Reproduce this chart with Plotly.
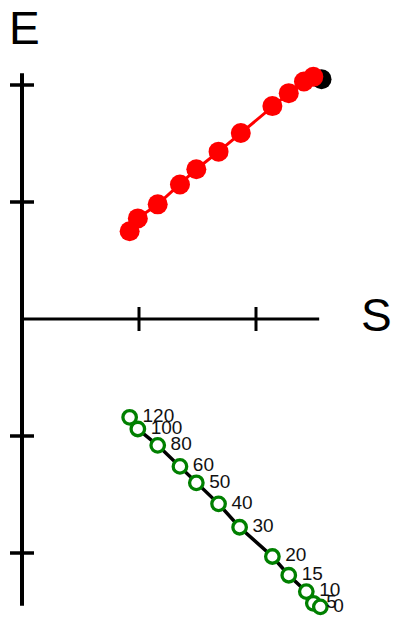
import plotly.graph_objects as go

# Data
red_s = [0.92, 0.99, 1.16, 1.35, 1.49, 1.68, 1.87, 2.14, 2.28, 2.41, 2.49]
red_e = [0.75, 0.86, 0.98, 1.15, 1.28, 1.43, 1.59, 1.82, 1.93, 2.03, 2.07]
black_s = [2.56]
black_e = [2.05]
green_s = [0.92, 0.99, 1.16, 1.35, 1.49, 1.68, 1.86, 2.14, 2.28, 2.43, 2.49, 2.55]
green_e = [-0.84, -0.94, -1.08, -1.26, -1.40, -1.58, -1.78, -2.03, -2.19, -2.33, -2.43, -2.46]
green_labels = ["120", "100", "80", "60", "50", "40", "30", "20", "15", "10", "5", "0"]
x_ticks = [1, 2]
y_ticks = [-2, -1, 1, 2]

W, H = 393, 618
U = 117.0
OX, OY = 22.0, 319.0

fig = go.Figure()

fig.add_trace(go.Scatter(x=black_s, y=black_e, mode="markers",
                         marker=dict(color="black", size=20), showlegend=False,
                         hoverinfo="skip"))
fig.add_trace(go.Scatter(x=red_s, y=red_e, mode="lines+markers",
                         line=dict(color="red", width=3),
                         marker=dict(color="red", size=20), showlegend=False))
fig.add_trace(go.Scatter(x=green_s, y=green_e, mode="lines+markers",
                         line=dict(color="black", width=3.5),
                         marker=dict(color="white", size=13.5,
                                     line=dict(color="#008000", width=3.3)),
                         showlegend=False))
fig.add_trace(go.Scatter(x=green_s, y=green_e, mode="markers+text",
                         marker=dict(color="rgba(0,0,0,0)", size=19),
                         text=green_labels, textposition="middle right",
                         textfont=dict(family="Liberation Sans, Arial", size=19, color="#111"),
                         showlegend=False, hoverinfo="skip"))

shapes = []
# y axis
shapes.append(dict(type="line", xref="x", yref="y", x0=0, x1=0, y0=2.10, y1=-2.45,
                   line=dict(color="black", width=4), layer="below"))
# x axis
shapes.append(dict(type="line", xref="x", yref="y", x0=0, x1=2.54, y0=0, y1=0,
                   line=dict(color="black", width=3), layer="below"))
for t in y_ticks:
    shapes.append(dict(type="line", xref="x", yref="y", xsizemode="pixel", xanchor=0,
                       x0=-12, x1=12, y0=t, y1=t,
                       line=dict(color="black", width=3.5), layer="below"))
for t in x_ticks:
    shapes.append(dict(type="line", xref="x", yref="y", ysizemode="pixel", yanchor=0,
                       y0=-12, y1=12, x0=t, x1=t,
                       line=dict(color="black", width=3), layer="below"))

fig.update_layout(
    width=W, height=H,
    margin=dict(l=0, r=0, t=0, b=0),
    paper_bgcolor="white", plot_bgcolor="white",
    xaxis=dict(range=[-OX / U, (W - OX) / U], visible=False, fixedrange=True),
    yaxis=dict(range=[-(H - OY) / U, OY / U], visible=False, fixedrange=True),
    shapes=shapes,
    annotations=[
        dict(text="E", xref="paper", yref="paper", x=24 / W, y=1 - 28 / H,
             showarrow=False, font=dict(family="Liberation Sans, Arial", size=46, color="black"),
             xanchor="center", yanchor="middle"),
        dict(text="S", xref="paper", yref="paper", x=376 / W, y=1 - 315 / H,
             showarrow=False, font=dict(family="Liberation Sans, Arial", size=46, color="black"),
             xanchor="center", yanchor="middle"),
    ],
)

fig.write_html("out.html", post_script="document.body.style.margin='0';",
               config={"displayModeBar": False})
